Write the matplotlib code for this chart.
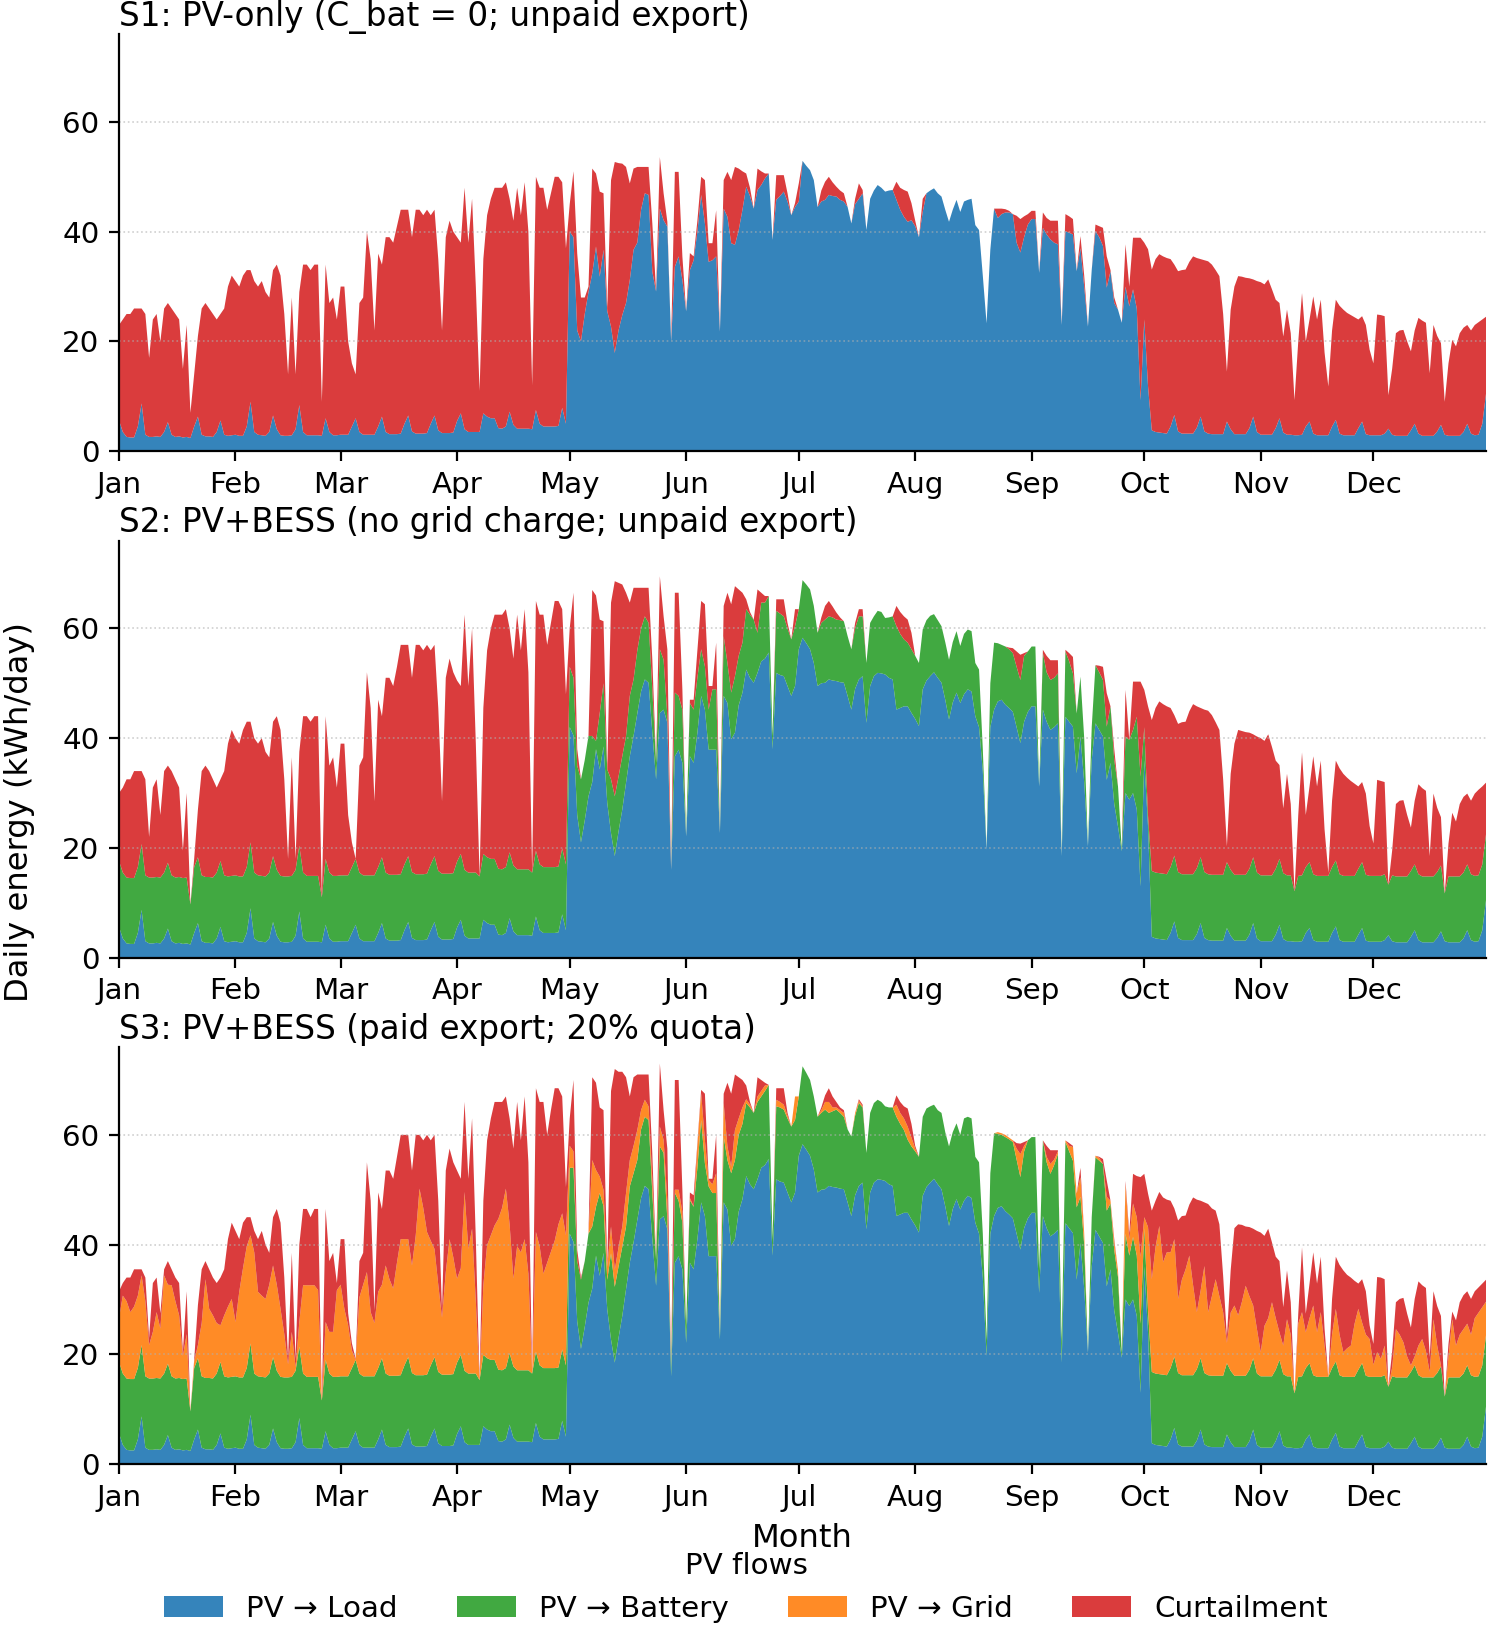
import numpy as np
import pandas as pd
import matplotlib
matplotlib.use("Agg")
import matplotlib.pyplot as plt
import matplotlib.dates as mdates

dates = pd.date_range("2023-01-01", "2023-12-31", freq="D")

# total PV yield per day (kWh/day), one line per month
pv_s1 = [
    23, 24, 25, 25, 26, 26, 26, 25, 17, 24, 25, 20, 26, 27, 26, 25, 24, 15, 23, 7, 14, 21, 26, 27, 26, 25, 24, 25, 26, 30, 32,
    31, 30, 32, 33, 33, 31, 30, 31, 29, 28, 33, 34, 32, 25, 14, 28, 14, 29, 34, 34, 33, 34, 34, 9, 34, 27, 28, 24,
    30, 30, 20, 16, 14, 27, 28, 40, 35, 22, 36, 34, 39, 39, 38, 41, 44, 44, 44, 39, 44, 44, 43, 44, 43, 44, 35, 22, 39, 42, 40,
    39, 38, 48, 38, 46, 30, 11, 35, 43, 46, 48, 48, 48, 49, 46, 42, 48, 43, 49, 40, 12, 50, 48, 48, 44, 47, 50, 50, 49, 37,
    45, 51, 36, 28, 28, 30, 51.5, 50.6, 47.3, 47, 26, 49.4, 52.7, 52.5, 52.4, 51.8, 48.8, 51.5, 51.8, 51.8, 51.8, 51.8, 41.5, 29.1, 53.6, 47, 41.8, 20, 50.9, 50.9, 35.5,
    25.5, 36.1, 35.5, 42, 50, 49.4, 37.9, 37.9, 43.9, 21.8, 49.4, 50.9, 49.4, 51.8, 51.5, 51, 50.6, 48, 44.2, 51.5, 51, 50.6, 50.6, 38.5, 50.3, 50.3, 50.3, 47, 43, 45.2,
    48.8, 52.9, 52, 51.2, 49.4, 44.5, 47.5, 49.1, 50, 49, 48.2, 47.5, 47, 44.5, 41.5, 46, 48.8, 47.6, 40.3, 46, 47.5, 48.5, 48, 47.3, 47.5, 47.6, 49.1, 48, 47.6, 47.3, 45.2,
    42, 39, 46, 47, 47.5, 47.9, 47, 46.4, 44, 41.8, 44, 45.8, 43.6, 45.5, 45.8, 46, 41.2, 40.3, 32, 23.3, 36.7, 44.2, 44.2, 44.2, 44.1, 43.8, 43.2, 42.9, 42.3, 42.8, 43.2,
    43.8, 43.8, 32.5, 43.5, 42.5, 42, 42, 42, 23, 43.2, 42.8, 42.3, 32.8, 39.2, 32, 22.7, 33, 41.3, 41, 40.7, 35.5, 33, 28, 25.8, 23.4, 37.7, 30, 38.9, 38.9, 38.9,
    38, 36.8, 33.1, 35, 35.9, 35.5, 35.2, 35, 34, 32.8, 33, 33.1, 34.5, 35.5, 35.2, 35, 34.8, 34.6, 34, 33, 31.9, 25, 14.5, 25.8, 30, 31.9, 31.8, 31.6, 31.5, 31.3, 31,
    30.8, 30.4, 31.3, 29.5, 27.6, 27, 20.9, 25.8, 21.5, 9.3, 20, 28.8, 20, 24, 28.2, 24, 27.6, 18, 11.8, 22, 27.6, 26.5, 25.8, 25.2, 24.8, 24.4, 24, 24.6, 23, 18.5,
    16, 24.9, 24.8, 24.6, 10.2, 15, 21.5, 22, 22.1, 20, 18.2, 22, 24.3, 23.8, 23.4, 14.2, 23, 21, 19.7, 9, 16, 20.3, 19.1, 21.5, 22.5, 23, 22, 23, 23.5, 24, 24.5,
]
pv_s2 = [
    30, 31, 32.5, 32.5, 34, 34, 34, 32.5, 22, 31, 32.5, 26, 34, 35, 34, 32.5, 31, 19.5, 30, 9.7, 18, 27, 34, 35, 34, 32.5, 31, 32.5, 34, 39, 41.5,
    40, 39, 41.5, 43, 43, 40, 39, 40, 37.5, 36.5, 43, 44, 41.5, 32.5, 18, 36.5, 18, 37.5, 44, 44, 43, 44, 44, 11, 44, 35, 36.5, 31,
    39, 39, 26, 21, 18, 35, 36.5, 52, 45.5, 28.5, 47, 44, 51, 51, 49.5, 53, 57, 57, 57, 51, 57, 57, 56, 57, 56, 57, 45.5, 28.5, 51, 54.5, 52,
    50.5, 49.5, 62.5, 49.5, 60, 39, 14.8, 45.5, 56, 60, 62.5, 62.5, 62.5, 63.5, 60, 54.5, 62.5, 56, 63.5, 52, 15.5, 65, 62.5, 62.5, 57, 61, 65, 65, 63.5, 48,
    60, 66.5, 38, 32.5, 36, 40.4, 67, 66, 61.6, 61.3, 34.3, 64.7, 68.6, 68.3, 68, 66.5, 64.7, 67.4, 67.4, 67.4, 67.4, 67.4, 54.3, 35.5, 69.5, 62.2, 56.2, 16, 66.5, 66.5, 48.9,
    22.1, 47, 47, 56, 65, 64.4, 49.5, 49.5, 57.4, 22.7, 64.1, 66.5, 64.4, 67.7, 67.1, 66.5, 65.3, 63, 61.6, 67.1, 66.5, 65.9, 65.9, 40.4, 65.3, 65.3, 65.3, 61, 58, 63.5,
    63.5, 68.8, 68, 67.1, 64.1, 59.2, 62, 64.1, 65, 64, 62.9, 62, 61.3, 58.6, 56.2, 61, 63.5, 63.5, 53.7, 61, 62.2, 63.2, 63, 61.9, 62, 62.2, 64.1, 63, 62.2, 61.6, 59.2,
    55, 53.7, 59.8, 61.5, 62.3, 62.6, 61.5, 60.4, 57.5, 54.3, 57.5, 59.5, 56.8, 59, 59.8, 59.5, 53.7, 52.5, 38, 19.7, 50, 57.4, 57.3, 57, 56.7, 56.5, 56.4, 55.8, 55.2, 55.5, 55.8,
    56.7, 56.7, 31.2, 56.1, 55, 54.2, 54.2, 54.2, 18.5, 56.1, 55.5, 54.8, 44.5, 51.2, 40, 20.3, 42, 53.3, 53.2, 53, 48.2, 45.8, 38, 31.2, 19.7, 48.8, 39.7, 50.3, 50.3, 50.3,
    48.8, 45.8, 43.3, 45.5, 46.7, 46.2, 45.8, 45.5, 44.2, 42.6, 42.9, 43, 44.9, 46.2, 45.8, 45.5, 45.2, 45, 44.2, 42.9, 41.5, 32.5, 20.3, 33.5, 39, 41.5, 41.3, 41.1, 41, 40.7, 40.3,
    40, 39.5, 40.7, 38.4, 35.9, 35.1, 27.2, 33.5, 28, 12.1, 26, 37.4, 26, 31.2, 36.7, 31.2, 35.9, 23.4, 15.5, 28.6, 35.9, 34.5, 33.5, 32.8, 32.2, 31.7, 31.2, 32, 29.9, 24,
    20.8, 32.4, 32.2, 32, 13.3, 19.5, 28, 28.6, 28.7, 26, 23.7, 28.6, 31.6, 30.9, 30.4, 18.5, 29.9, 27.3, 25.6, 11.7, 20.8, 26.4, 24.8, 28, 29.3, 29.9, 28.6, 29.9, 30.6, 31.2, 31.9,
]
pv_s3 = [
    31.5, 33, 34, 34, 35.5, 35.5, 35.5, 34, 23, 33, 34, 27.5, 35.5, 37, 35.5, 34, 33, 20.5, 31.5, 9.6, 19, 29, 35.5, 37, 35.5, 34, 33, 34, 35.5, 41, 44,
    42.5, 41, 44, 45, 45, 42.5, 41, 42.5, 40, 38.5, 45, 46.5, 44, 34, 19.2, 38.5, 19.2, 40, 46.5, 46.5, 45, 46.5, 46.5, 11.6, 46.5, 37, 38.5, 33,
    41, 41, 27.5, 22, 19.2, 37, 38.5, 55, 48, 28, 49.5, 46.5, 53.5, 53.5, 52, 56, 60, 60, 60, 53.5, 60, 60, 59, 60, 59, 60, 48, 28, 53.5, 57.5, 55,
    53.5, 52, 66, 52, 63, 41, 15.3, 48, 59, 63, 66, 66, 66, 67, 63, 57.5, 66, 59, 67, 55, 16.5, 68.5, 66, 66, 60, 64.5, 68.5, 68.5, 67, 50.5,
    63, 70, 39, 34, 37, 42, 70.5, 69.5, 65, 64.5, 36, 68, 72, 71.5, 71.5, 70.5, 67, 70.5, 71, 71, 71, 71, 56.5, 37.2, 73, 64.5, 57.5, 17.7, 70, 70, 50,
    25, 49.5, 49, 58.5, 68.2, 67.5, 52, 52, 60, 23.2, 67.5, 69.5, 67.5, 71, 70.5, 70, 69, 66, 64, 70.5, 70, 69.5, 69.1, 40.9, 68.5, 68.5, 68.5, 64, 61.5, 67,
    67, 72.5, 71.3, 70, 67, 63.3, 65, 67.2, 68.5, 67, 66, 65, 64.5, 61, 59.7, 64, 66.5, 65.5, 56.7, 64, 65.8, 66.4, 66, 65.2, 65, 65, 67.2, 66, 65.2, 64.8, 62,
    58, 56, 63.3, 64.8, 65.2, 65.5, 64.5, 64, 60.5, 57.9, 60.5, 62.1, 60, 63, 63.3, 63, 56, 55, 42, 22.6, 53, 60.3, 60.5, 60.3, 60, 59.5, 59, 58.5, 58.4, 58.7, 59,
    59.6, 59.6, 35.3, 59, 58, 57.2, 57.2, 57.2, 22, 59, 58.5, 58, 49.3, 54, 42, 20.3, 45, 56.2, 56, 55.6, 51.7, 48, 41, 35.3, 20.2, 51.6, 42, 52.9, 52.5, 52.3,
    52.9, 49.3, 46.2, 48, 49.6, 48.6, 48.2, 48, 46.6, 44.4, 45.2, 45.3, 47.3, 48.6, 48.2, 48, 47.7, 47.4, 46.6, 46.2, 43.7, 34.3, 23.2, 35.3, 43, 43.7, 43.6, 43.3, 43.2, 42.9, 42.5,
    42.2, 41.6, 42.9, 40.4, 37.8, 37, 28.6, 35.3, 29.5, 12.9, 27.4, 39.5, 27.4, 32.9, 38.6, 32.9, 37.8, 24.7, 15.9, 30.1, 37.8, 36.3, 35.3, 34.5, 34, 33.4, 32.9, 33.7, 31.5, 25.3,
    21.9, 34.1, 34, 33.7, 14.1, 20.5, 29.5, 30.1, 30.3, 27.4, 24.9, 30.1, 33.3, 32.6, 32.1, 19.5, 31.5, 28.8, 27, 12.3, 21.9, 27.8, 26.2, 29.5, 30.8, 31.5, 30.1, 31.5, 32.2, 32.9, 33.6,
]

# PV -> load, S1
load_s1 = [
    5.6, 3.5, 2.6, 2.5, 2.5, 4.5, 8.7, 3.0, 2.6, 2.6, 2.7, 2.6, 3.5, 5.3, 3.0, 2.6, 2.7, 2.5, 2.6, 2.4, 4.5, 6.3, 3.0, 2.7, 2.7, 2.6, 3.5, 5.6, 3.0, 2.8, 2.9,
    3.0, 2.8, 2.8, 4.5, 9.0, 3.5, 3.0, 2.9, 2.8, 3.5, 6.5, 4.0, 2.9, 2.8, 2.8, 2.9, 4.0, 8.4, 3.5, 2.9, 2.9, 2.9, 2.9, 2.8, 6.0, 3.5, 2.9, 2.9,
    3.0, 3.0, 3.0, 4.5, 6.0, 3.5, 3.0, 3.0, 3.0, 3.0, 4.5, 6.3, 3.5, 3.1, 3.1, 3.1, 3.2, 5.0, 6.5, 3.6, 3.2, 3.2, 3.2, 3.3, 5.0, 6.5, 3.8, 3.3, 3.3, 3.3, 3.4,
    5.5, 6.9, 4.0, 3.5, 3.5, 3.5, 3.5, 6.9, 6.3, 6.0, 6.0, 4.2, 4.1, 4.5, 7.2, 4.8, 4.1, 4.1, 4.1, 4.1, 4.0, 7.5, 5.0, 4.5, 4.5, 4.5, 4.5, 4.6, 7.9, 5.0,
    40, 39, 22, 20, 25, 29, 32.4, 37.3, 31.8, 36.7, 25.5, 22.7, 17.9, 22, 24.8, 27, 31.2, 36.7, 38, 44, 47, 46.7, 32.7, 29.1, 44.2, 42.1, 40.9, 20, 33.6, 35.5, 31.2,
    25.5, 33, 34.8, 40, 46.7, 41.5, 34.5, 34.8, 35.5, 21.8, 44.2, 42.7, 37.9, 37.6, 40.3, 44, 48.2, 46.5, 44.2, 47.6, 48.5, 49.7, 50.6, 38.5, 45.8, 46.5, 47.3, 45.5, 43, 44.5,
    45.5, 52.9, 52, 51.2, 49.4, 44.5, 45.5, 45.8, 46.7, 46.5, 46.4, 45.8, 45.5, 44.5, 41.5, 45, 46, 47, 40.3, 46, 47.5, 48.5, 48, 47.3, 47.5, 47.6, 45.8, 44, 42.7, 41.8, 42.1,
    41, 39, 43.6, 47, 47.5, 47.9, 47, 46.4, 44, 41.8, 44, 45.8, 43.6, 45.5, 45.8, 46, 41.2, 40.3, 32, 23.3, 36.7, 44.2, 42.5, 43.2, 43.5, 43.5, 43.2, 38, 36.2, 39, 41.3,
    42.3, 42.3, 32.5, 40.7, 39.5, 38.6, 38, 37.7, 23, 40.1, 39.8, 39.5, 32.8, 37, 30, 22.7, 33, 40.1, 39, 37.4, 29.8, 32.8, 27, 25.8, 23.4, 30, 26.4, 29.5, 26, 9.3,
    24, 11.8, 3.8, 3.5, 3.4, 3.3, 3.2, 4.5, 6.6, 3.6, 3.2, 3.2, 3.2, 3.2, 4.3, 6.3, 3.6, 3.2, 3.1, 3.1, 3.1, 3.1, 5.4, 4.0, 3.1, 3.1, 3.1, 3.1, 4.2, 6.3, 3.5,
    3.0, 3.0, 3.0, 3.0, 4.2, 6.0, 3.4, 3.0, 3.0, 2.9, 2.9, 3.0, 4.5, 5.4, 3.2, 2.9, 2.9, 2.9, 2.9, 4.5, 5.7, 3.2, 2.9, 2.9, 2.9, 2.9, 4.2, 5.4, 3.1, 2.9,
    2.9, 2.9, 2.9, 3.2, 4.1, 3.0, 2.8, 2.8, 2.8, 2.8, 3.8, 5.0, 3.2, 2.8, 2.8, 2.8, 2.8, 3.6, 4.8, 3.0, 2.8, 2.8, 2.8, 2.8, 3.5, 5.0, 3.2, 2.9, 3.0, 5.0, 10.5,
]
# PV -> load with battery (S2 and S3), 1 May - 1 Oct; rest of year same as S1
load_bess_summer = [
    42, 40.5, 26, 21, 25, 29.4, 32, 38, 34.3, 38.5, 28.2, 22.7, 18.5, 23, 27, 31.9, 36.7, 40.4, 44.5, 48.5, 50.7, 50.1, 41, 32.5, 44.6, 45.2, 42.8, 16, 36.7, 37.9, 35.5,
    22.1, 36.7, 35.5, 41, 47.7, 45.2, 37.9, 37.9, 37.9, 22.7, 47.7, 46.4, 39.8, 41, 46, 48.3, 52.5, 51, 50.1, 51.9, 54, 54.5, 55.6, 38, 51.9, 51.5, 51.3, 49.5, 47.7, 49.5,
    56.2, 58.3, 57.3, 56.2, 53.7, 49.5, 50, 50.1, 50.7, 50.5, 50.4, 50.2, 50.1, 47.7, 45.2, 49, 50.7, 51.3, 42.8, 49.5, 51.3, 51.9, 51.8, 51.6, 51, 50.7, 45.2, 45.5, 45.8, 45.8, 44.6,
    43.5, 42.2, 48.9, 50.5, 51.3, 52, 51, 50.1, 47, 43.4, 46.5, 48.3, 46.4, 48, 48.9, 48.5, 44, 42, 34, 19.7, 42, 45.2, 46.7, 47, 46.1, 45.5, 44.8, 42, 39.1, 43, 44.8,
    45.8, 45.8, 31.2, 45.2, 43, 41.5, 42, 42.7, 18.5, 43.9, 43, 42.1, 33.6, 40.3, 32, 20.3, 36, 42.7, 41.5, 40.3, 32.4, 35.5, 28, 23.9, 19.4, 30, 28.8, 30, 27, 13,
    36, 23.9,
]
load_bess = load_s1[:120] + load_bess_summer + load_s1[275:]

# PV -> battery
batt_s2 = [
    12, 12, 12, 12, 12, 12, 12, 12, 12, 12, 12, 12, 12, 12, 12, 12, 12, 12, 12, 7.3, 12, 12, 12, 12, 12, 12, 12, 12, 12, 12, 12,
    12, 12, 12, 12, 12, 12, 12, 12, 12, 12, 12, 12, 12, 12, 12, 12, 12, 12, 12, 12, 12, 12, 12, 8.2, 12, 12, 12, 12,
    12, 12, 12, 12, 12, 12, 12, 12, 12, 12, 12, 12, 12, 12, 12, 12, 12, 12, 12, 12, 12, 12, 12, 12, 12, 12, 12, 12, 12, 12, 12,
    12, 12, 12, 12, 12, 12, 11.3, 12, 12, 12, 12, 12, 12, 12, 12, 12, 12, 12, 12, 12, 11.5, 12, 12, 12, 12, 12, 12, 12, 12, 12,
    11, 10.5, 9, 11.5, 11, 11, 8.4, 1.5, 10.3, 11.5, 6.1, 9.8, 10.9, 10, 9.7, 8.5, 11, 10.3, 11.5, 11.5, 11.5, 10.9, 7.9, 3, 11.6, 9.1, 1.2, 0, 11.6, 9.8, 9.7,
    0, 9.7, 9.7, 10, 8.5, 7.9, 7.3, 11, 11, 0, 10.9, 7.3, 8.5, 10.3, 9, 9.1, 11, 11.5, 11.5, 7.3, 10.7, 10.2, 10.3, 2.4, 11.3, 11.2, 10.9, 10.5, 10.3, 10.9,
    7.3, 10.5, 10.7, 10.9, 10.4, 9.7, 11, 11.5, 11.5, 11.5, 11.2, 11.3, 11.2, 10.9, 11, 11, 11.5, 10.9, 10.9, 11.5, 10.9, 11.3, 11.2, 10.3, 11, 11.5, 15.2, 13.5, 12.2, 11.6, 11.6,
    11.5, 11.5, 10.9, 11, 11, 10.6, 10.5, 10.3, 10.5, 10.9, 11, 11.2, 10.4, 11, 10.9, 11, 9.7, 10.5, 4, 0, 8, 12.2, 10.6, 10, 10.6, 10.7, 10.7, 11, 11.5, 12, 11,
    10.9, 10.9, 0, 10.3, 9, 9.1, 9, 9.1, 0, 11.9, 11, 9.7, 10.9, 10.9, 8, 0, 6, 10.6, 10.5, 10.3, 9.7, 10.3, 8, 7.3, 0.3, 10.3, 10.9, 11.5, 16.9, 20,
    6, 1.9, 12, 12, 12, 12, 12, 12, 12, 12, 12, 12, 12, 12, 12, 12, 12, 12, 12, 12, 12, 12, 12, 12, 12, 12, 12, 12, 12, 12, 12,
    12, 12, 12, 12, 12, 12, 12, 12, 12, 9.2, 12, 12, 12, 12, 12, 12, 12, 12, 12, 12, 12, 12, 12, 12, 12, 12, 12, 12, 12, 12,
    12, 12, 12, 12, 9.2, 12, 12, 12, 12, 12, 12, 12, 12, 12, 12, 12, 12, 12, 12, 8.7, 12, 12, 12, 12, 12, 12, 12, 12, 12, 12, 12,
]
batt_s3 = [
    13, 13, 13, 13, 13, 13, 13, 13, 13, 13, 13, 13, 13, 13, 13, 13, 13, 13, 13, 7.2, 13, 13, 13, 13, 13, 13, 13, 13, 13, 13, 13,
    13, 13, 13, 13, 13, 13, 13, 13, 13, 13, 13, 13, 13, 13, 13, 13, 13, 13, 13, 13, 13, 13, 13, 8.8, 13, 13, 13, 13,
    13, 13, 13, 13, 13, 13, 13, 13, 13, 13, 13, 13, 13, 13, 13, 13, 13, 13, 13, 13, 13, 13, 13, 13, 13, 13, 13, 13, 13, 13, 13,
    13, 13, 13, 13, 13, 13, 11.8, 13, 13, 13, 13, 13, 13, 13, 13, 13, 13, 13, 13, 13, 12.5, 13, 13, 13, 13, 13, 13, 13, 13, 13,
    12, 13.5, 11, 12.6, 12, 12.6, 11.3, 8.9, 15.1, 8.5, 5.4, 15.7, 13.8, 13, 12.6, 11.4, 13.9, 12.6, 10.9, 12.5, 12.6, 12.6, 8.4, 4.7, 13.3, 11.5, 1.7, 1.7, 12.7, 10.1, 8.5,
    2.9, 11.4, 11.4, 13, 15, 9.6, 12.7, 11.5, 11.5, 0.5, 12, 9, 13.2, 14.4, 14, 13.7, 13.3, 14, 13.9, 14.1, 13, 13.5, 13.5, 2.9, 13.3, 13.5, 13.3, 13.5, 13.8, 13.2,
    10.8, 14.2, 14, 13.8, 13.3, 13.8, 14, 14.5, 13.3, 13.8, 14.2, 13.8, 13.2, 13.3, 14.5, 14.5, 15.1, 13.7, 13.9, 14.5, 14.5, 14.5, 14.2, 13.6, 14, 14.3, 18.1, 16.5, 15.1, 13.3, 13.3,
    13.5, 13.8, 14.4, 14.3, 13.9, 13.5, 13.5, 13.9, 13.5, 14.5, 14, 13.8, 13.6, 15, 14.4, 14.5, 12, 13, 8, 2.9, 11, 15.1, 13.5, 13, 13.5, 13.7, 13.9, 13.5, 13.2, 14, 14.2,
    13.8, 13.8, 4.1, 13.8, 12, 11.4, 12.5, 13.8, 3.5, 14.8, 14, 13.2, 13.2, 8.4, 8, 0, 9, 13.2, 13.8, 14.4, 13.8, 12, 11, 10.2, 0.8, 12, 9.2, 11.4, 11, 12.6,
    7, 4.1, 13, 13, 13, 13, 13, 13, 13, 13, 13, 13, 13, 13, 13, 13, 13, 13, 13, 13, 13, 13, 13, 13, 13, 13, 13, 13, 13, 13, 13,
    13, 13, 13, 13, 13, 13, 13, 13, 13, 10, 13, 13, 13, 13, 13, 13, 13, 13, 13, 13, 13, 13, 13, 13, 13, 13, 13, 13, 13, 13,
    13, 13, 13, 13, 10, 13, 13, 13, 13, 13, 13, 13, 13, 13, 13, 13, 13, 13, 13, 9.3, 13, 13, 13, 13, 13, 13, 13, 13, 13, 13, 13,
]

# PV -> grid (only S3 has paid export)
grid_s3 = [
    8.1, 14.2, 14.1, 12.2, 13.2, 13.2, 12.7, 13.7, 6.1, 8.5, 12, 9.1, 17.9, 14.4, 16.6, 14.1, 11.4, 4.2, 8.1, 0, 1.2, 2.4, 9.7, 18, 12.6, 11.5, 9.2, 6.7, 11.1, 12.9, 14.2,
    9.9, 15.6, 19.9, 22.2, 19.7, 22.1, 15.4, 14.8, 14.3, 16.2, 16.7, 15.7, 12.4, 7.9, 2.4, 8.2, 0.7, 4.5, 16.1, 16.7, 16.7, 16.7, 15.8, 0, 6.9, 7.6, 8.2, 15.8,
    16.7, 12.3, 9.3, 3.2, 0, 13.9, 16.7, 19, 11.7, 9.7, 13.9, 13.4, 19.7, 17.6, 15.9, 20.6, 24.8, 23, 21.5, 19.6, 25.5, 34, 30.5, 26, 22.7, 19.7, 15.9, 10.4, 18.7, 24.7, 21.3,
    15.3, 15.8, 32.6, 22.7, 26.4, 13.2, 0, 12.7, 20.6, 22.7, 24.5, 27.5, 29.6, 32.7, 23.5, 16, 22.6, 21.5, 23.9, 17.6, 0, 21.8, 21.7, 17.2, 19.2, 21.2, 23.2, 26.1, 24.8, 23.7,
    4, 3, 0, 0, 0, 0, 12.1, 6.7, 3, 3, 2.4, 4.9, 3.1, 3.5, 3.7, 6.1, 4.8, 5, 5.5, 3.5, 3.1, 2.5, 2.4, 0, 3.6, 2.4, 3.5, 0, 0.6, 2, 2,
    0, 0.4, 0.1, 4, 4.9, 4.2, 1.2, 1.6, 3.6, 0, 6.1, 2.5, 1.2, 5.5, 3, 3, 0.7, 0.5, 0, 1, 1, 1, 0, 0, 1.2, 1, 0.9, 0.5, 0, 4.3,
    0, 0, 0, 0, 0, 0, 0.5, 1.4, 2, 0.7, 0.4, 0.5, 0.7, 0, 0, 0.5, 0.4, 0.2, 0, 0, 0, 0, 0, 0, 0, 0, 2.2, 2, 2.1, 2.4, 1.6,
    0.5, 0, 0, 0, 0, 0, 0, 0, 0, 0, 0, 0, 0, 0, 0, 0, 0, 0, 0, 0, 0, 0, 0.3, 0.3, 0.4, 0.3, 0.3, 2, 4.2, 1, 0,
    0, 0, 0, 0, 1, 1.8, 1, 0.5, 0, 0.3, 1, 2.5, 2.5, 3.6, 2, 0, 0, 0.3, 0.5, 0, 2.5, 0.5, 1.5, 1.2, 0, 9, 3, 6.1, 7, 12.2,
    2, 15.2, 16.9, 23.1, 27, 20.5, 22.4, 21.1, 21.4, 13.5, 17.4, 19.3, 21.8, 16.4, 10.4, 12.3, 19.5, 11.5, 14.5, 17.6, 14.5, 11.6, 3.7, 10.6, 12.8, 11, 13.5, 16.4, 13.4, 9.6, 8.1,
    4.4, 9.2, 10.6, 13.5, 9.4, 5, 5.2, 10.4, 7.6, 0, 9.7, 11.7, 6.5, 8.2, 12.7, 8.1, 11.8, 5.7, 0, 6.1, 9.6, 7.4, 4.5, 5.2, 5.7, 9.7, 11.1, 7.4, 7.5, 6.9,
    2.2, 4.5, 3.3, 5.4, 0, 1.6, 8.8, 7.8, 6.4, 3.8, 1.2, 1.6, 5.4, 7, 4.8, 1, 10.6, 5, 0.2, 0, 3.8, 10.6, 5.8, 7.8, 8.1, 7.6, 7.4, 10.7, 11.6, 10.6, 6.1,
]

titles = [
    "S1: PV-only (C_bat = 0; unpaid export)",
    "S2: PV+BESS (no grid charge; unpaid export)",
    "S3: PV+BESS (paid export; 20% quota)",
]
labels = ["PV \u2192 Load", "PV \u2192 Battery", "PV \u2192 Grid", "Curtailment"]
colors = ["tab:blue", "tab:green", "tab:orange", "tab:red"]

zeros = np.zeros(len(dates))
scenarios = [
    (pv_s1, load_s1, zeros, zeros),
    (pv_s2, load_bess, batt_s2, zeros),
    (pv_s3, load_bess, batt_s3, grid_s3),
]

plt.rcParams["font.size"] = 10.6

fig, axes = plt.subplots(3, 1, figsize=(7.46, 8.125), dpi=200)
fig.subplots_adjust(left=0.0798, right=0.996, top=0.979, bottom=0.099, hspace=0.2144)

for ax, title, (pv, load, batt, grid) in zip(axes, titles, scenarios):
    pv = np.asarray(pv, float)
    load = np.asarray(load, float)
    batt = np.asarray(batt, float)
    grid = np.asarray(grid, float)
    curt = np.clip(pv - load - batt - grid, 0, None)
    polys = ax.stackplot(dates, load, batt, grid, curt, colors=colors,
                         labels=labels, alpha=0.9, linewidth=0)
    ax.set_title(title, loc="left", fontsize=11.75, pad=3)
    ax.set_xlim(dates[0], dates[-1])
    ax.set_ylim(0, 76)
    ax.set_yticks([0, 20, 40, 60])
    ax.xaxis.set_major_locator(mdates.MonthLocator())
    ax.xaxis.set_major_formatter(mdates.DateFormatter("%b"))
    ax.grid(axis="y", linestyle=":", linewidth=0.6, alpha=0.6)
    ax.spines["top"].set_visible(False)
    ax.spines["right"].set_visible(False)

axes[-1].set_xlabel("Month", fontsize=11.6)
fig.text(0.003, 0.5, "Daily energy (kWh/day)", rotation=90, va="center",
         ha="left", fontsize=11.6)

fig.legend(polys, labels, loc="lower center", bbox_to_anchor=(0.5, -0.006),
           ncol=4, frameon=False, title="PV flows", borderaxespad=0)

plt.savefig("out.png")
